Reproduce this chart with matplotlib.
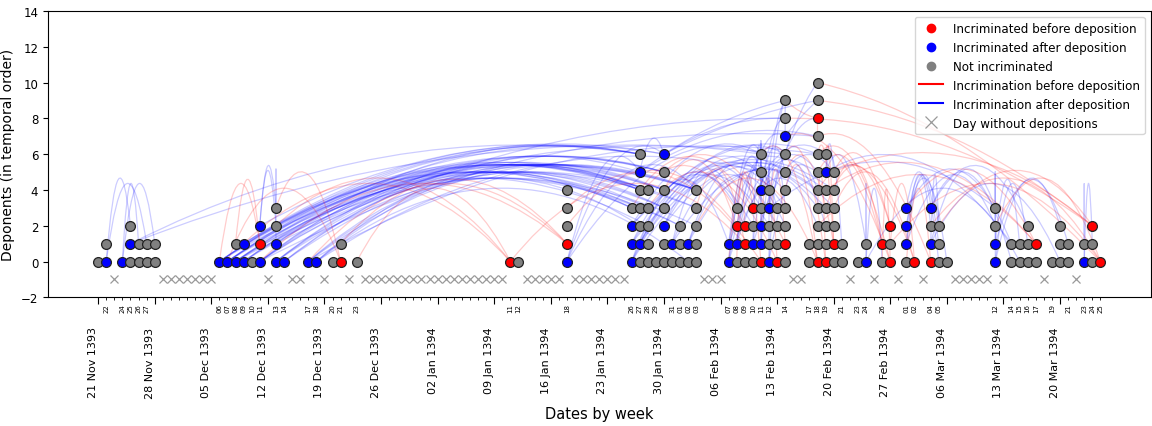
import datetime as dt

import matplotlib
matplotlib.use("Agg")
import matplotlib.pyplot as plt
from matplotlib.lines import Line2D
from matplotlib.patches import PathPatch
from matplotlib.path import Path

START = dt.date(1393, 11, 21)
END = dt.date(1394, 3, 25)
ARC_TOP = 8.2
MONTHS = ["Jan", "Feb", "Mar", "Apr", "May", "Jun",
          "Jul", "Aug", "Sep", "Oct", "Nov", "Dec"]

# deposition days (MM-DD, Nov/Dec = 1393, rest = 1394)
DEP_DAYS = [
    "11-21", "11-22", "11-24", "11-25", "11-26", "11-27", "11-28",
    "12-06", "12-07", "12-08", "12-09", "12-10", "12-11", "12-13", "12-14",
    "12-17", "12-18", "12-20", "12-21", "12-23",
    "01-11", "01-12", "01-18",
    "01-26", "01-27", "01-28", "01-29", "01-30", "01-31", "02-01", "02-02", "02-03",
    "02-07", "02-08", "02-09", "02-10", "02-11", "02-12", "02-13", "02-14",
    "02-17", "02-18", "02-19", "02-20", "02-21", "02-23", "02-24", "02-26", "02-27",
    "03-01", "03-02", "03-04", "03-05", "03-06",
    "03-12", "03-14", "03-15", "03-16", "03-17", "03-19", "03-20", "03-21",
    "03-23", "03-24", "03-25",
]
# deponents of each day, bottom to top: R = before, B = after, G = not incriminated
DEP_STATUS = [
    "G", "BG", "B", "GBG", "GG", "GG", "GG",
    "B", "B", "BG", "BB", "G", "BRB", "BBGG", "B",
    "B", "B", "G", "RG", "G",
    "R", "G", "BRGGG",
    "BBBG", "GBGGGBG", "GGGGG", "G", "GGBGGGB", "GB", "GGG", "GB", "GGGGG",
    "BB", "GBRG", "GRR", "GBGR", "RBBGBGG", "BGGBG", "RGGG", "GRGGGGGBGG",
    "GG", "RGGGGGGGRGG", "RGGGGBG", "GRGGGG", "GG", "G", "BG", "GR", "RGR",
    "GBBB", "R", "RBGB", "GGG", "G",
    "BBGG", "GG", "GG", "GGG", "GR", "G", "GGG", "GG",
    "BG", "GGR", "R",
]
# (incriminator day, position, incriminated day, position)
LINKS = [
    ("01-26", 3, "12-06", 0), ("01-27", 4, "12-06", 0), ("01-27", 6, "12-06", 0),
    ("01-28", 4, "12-06", 0), ("01-30", 5, "12-06", 0), ("02-03", 4, "12-06", 0),
    ("01-26", 3, "12-07", 0), ("01-27", 6, "12-07", 0), ("01-28", 3, "12-07", 0),
    ("01-30", 4, "12-07", 0), ("01-30", 6, "12-07", 0), ("02-03", 3, "12-07", 0),
    ("01-27", 4, "12-08", 0), ("01-28", 4, "12-08", 0), ("01-30", 5, "12-08", 0),
    ("02-01", 2, "12-08", 0), ("02-03", 4, "12-08", 0), ("02-11", 6, "12-08", 0),
    ("01-27", 3, "12-09", 0), ("01-28", 2, "12-09", 0), ("01-30", 3, "12-09", 0),
    ("02-03", 2, "12-09", 0),
    ("01-27", 6, "12-09", 1), ("01-30", 4, "12-09", 1), ("01-28", 4, "12-09", 1),
    ("01-26", 3, "12-11", 0), ("01-27", 4, "12-11", 0), ("01-30", 5, "12-11", 0),
    ("02-03", 4, "12-11", 0), ("02-01", 2, "12-11", 0), ("02-18", 7, "12-11", 0),
    ("12-13", 3, "12-11", 2), ("12-13", 2, "12-11", 2), ("01-30", 6, "12-11", 2),
    ("01-27", 5, "12-13", 0), ("01-28", 4, "12-13", 0), ("01-30", 3, "12-13", 0),
    ("02-03", 3, "12-13", 0),
    ("01-27", 6, "12-13", 1), ("01-30", 4, "12-13", 1), ("12-13", 3, "12-13", 1),
    ("02-14", 8, "12-13", 1),
    ("01-30", 5, "12-14", 0), ("01-28", 3, "12-14", 0), ("02-03", 4, "12-14", 0),
    ("01-27", 2, "12-17", 0), ("01-30", 3, "12-17", 0), ("02-03", 4, "12-17", 0),
    ("02-18", 6, "12-17", 0),
    ("01-27", 4, "12-18", 0), ("01-30", 4, "12-18", 0), ("02-02", 0, "12-18", 0),
    ("02-11", 5, "12-18", 0),
    ("11-25", 2, "11-22", 0), ("11-27", 1, "11-22", 0),
    ("11-26", 1, "11-24", 0), ("11-28", 1, "11-24", 0),
    ("01-27", 6, "11-25", 1), ("02-14", 6, "11-25", 1),
    ("12-06", 0, "12-11", 1), ("12-08", 1, "12-11", 1),
    ("12-07", 0, "12-21", 0), ("12-13", 3, "12-21", 0),
    ("12-09", 1, "01-11", 0), ("12-13", 2, "01-11", 0), ("12-23", 0, "01-11", 0),
    ("12-17", 0, "01-18", 1), ("12-11", 0, "01-18", 1), ("12-21", 1, "01-18", 1),
    ("01-27", 5, "01-18", 0), ("01-30", 6, "01-18", 0), ("02-03", 4, "01-18", 0),
    ("02-11", 6, "01-18", 0),
    ("02-08", 3, "01-26", 0), ("02-11", 5, "01-26", 0), ("02-14", 5, "01-26", 0),
    ("02-18", 5, "01-26", 0),
    ("02-10", 2, "01-26", 1), ("02-14", 4, "01-26", 1), ("02-19", 4, "01-26", 1),
    ("02-11", 6, "01-26", 2), ("02-18", 6, "01-26", 2), ("02-20", 4, "01-26", 2),
    ("02-07", 1, "01-27", 1), ("02-12", 2, "01-27", 1), ("02-14", 6, "01-27", 1),
    ("02-18", 4, "01-27", 1),
    ("01-30", 6, "01-27", 5), ("02-14", 8, "01-27", 5), ("02-18", 7, "01-27", 5),
    ("02-11", 3, "01-30", 2), ("02-14", 3, "01-30", 2), ("02-19", 3, "01-30", 2),
    ("02-14", 9, "01-30", 6), ("02-18", 9, "01-30", 6),
    ("02-08", 3, "01-31", 1), ("02-13", 2, "01-31", 1), ("02-20", 3, "01-31", 1),
    ("02-12", 4, "02-02", 1), ("02-14", 2, "02-02", 1), ("02-18", 3, "02-02", 1),
    ("01-30", 4, "02-08", 2), ("01-18", 2, "02-08", 2),
    ("01-11", 0, "02-09", 1), ("02-03", 3, "02-09", 1),
    ("01-26", 3, "02-09", 2), ("02-08", 0, "02-09", 2),
    ("01-27", 4, "02-10", 3), ("02-07", 0, "02-10", 3),
    ("01-18", 3, "02-11", 0), ("02-08", 3, "02-11", 0),
    ("01-28", 3, "02-13", 0), ("02-11", 2, "02-13", 0),
    ("01-30", 5, "02-14", 1), ("02-12", 3, "02-14", 1),
    ("02-11", 5, "02-07", 0), ("02-14", 6, "02-07", 0), ("02-18", 2, "02-07", 0),
    ("02-11", 6, "02-07", 1), ("02-13", 3, "02-07", 1), ("02-19", 6, "02-07", 1),
    ("02-12", 4, "02-08", 1), ("02-14", 7, "02-08", 1), ("02-18", 5, "02-08", 1),
    ("02-11", 6, "02-10", 1), ("02-14", 8, "02-10", 1), ("02-20", 5, "02-10", 1),
    ("02-11", 5, "02-11", 1), ("02-14", 9, "02-11", 1),
    ("02-11", 6, "02-11", 2), ("02-18", 8, "02-11", 2),
    ("02-11", 6, "02-11", 4), ("02-14", 5, "02-11", 4), ("02-19", 2, "02-11", 4),
    ("02-12", 4, "02-12", 0), ("02-18", 4, "02-12", 0), ("02-14", 3, "02-12", 0),
    ("02-14", 9, "02-12", 3), ("02-18", 10, "02-12", 3), ("03-12", 3, "02-12", 3),
    ("02-18", 9, "02-14", 7), ("02-14", 9, "02-14", 7),
    ("02-21", 1, "02-19", 5), ("02-24", 1, "02-19", 5), ("02-20", 5, "02-19", 5),
    ("03-14", 1, "02-19", 5),
    ("02-26", 0, "02-24", 0), ("02-24", 1, "02-24", 0), ("03-15", 0, "02-24", 0),
    ("03-04", 2, "03-01", 1), ("03-05", 2, "03-01", 1), ("03-12", 2, "03-01", 1),
    ("03-05", 1, "03-01", 2), ("03-06", 0, "03-01", 2),
    ("03-14", 1, "03-01", 3), ("03-05", 0, "03-01", 3),
    ("03-05", 2, "03-04", 1), ("03-12", 3, "03-04", 1), ("03-20", 0, "03-04", 1),
    ("03-14", 0, "03-04", 3), ("03-16", 2, "03-04", 3),
    ("03-12", 3, "03-12", 0), ("03-16", 1, "03-12", 0), ("03-20", 2, "03-12", 0),
    ("03-12", 2, "03-12", 1), ("03-15", 1, "03-12", 1), ("03-21", 1, "03-12", 1),
    ("03-23", 1, "03-23", 0), ("03-24", 1, "03-23", 0),
    ("02-14", 4, "02-18", 0), ("02-11", 6, "02-18", 0), ("02-03", 2, "02-18", 0),
    ("02-14", 9, "02-18", 8), ("02-18", 7, "02-18", 8),
    ("02-14", 6, "02-19", 0), ("02-18", 3, "02-19", 0),
    ("02-18", 6, "02-20", 1), ("02-19", 6, "02-20", 1), ("02-14", 5, "02-20", 1),
    ("02-18", 5, "02-26", 1), ("02-20", 4, "02-26", 1),
    ("02-18", 6, "02-27", 0), ("02-26", 0, "02-27", 0), ("02-14", 7, "02-27", 0),
    ("02-19", 3, "02-27", 2), ("02-20", 5, "02-27", 2),
    ("02-18", 4, "03-02", 0), ("02-27", 1, "03-02", 0), ("02-20", 3, "03-02", 0),
    ("02-18", 7, "03-04", 0), ("03-01", 0, "03-04", 0),
    ("02-18", 2, "03-17", 1), ("02-19", 4, "03-17", 1), ("03-01", 3, "03-17", 1),
    ("02-18", 9, "03-24", 2), ("02-20", 5, "03-24", 2), ("02-14", 8, "03-24", 2),
    ("03-05", 2, "03-24", 2),
    ("02-18", 10, "03-25", 0), ("02-27", 1, "03-25", 0), ("03-04", 2, "03-25", 0),
    ("03-12", 2, "03-25", 0),
]

COLORS = {"R": "red", "B": "blue", "G": "gray"}


def to_date(md):
    m, d = (int(s) for s in md.split("-"))
    return dt.date(1393 if m >= 11 else 1394, m, d)


def day_num(md):
    return (to_date(md) - START).days


def arc(x0, y0, x1, y1):
    verts = [(x0, y0), ((x0 + x1) / 2, ARC_TOP), (x1, y1)]
    return Path(verts, [Path.MOVETO, Path.CURVE3, Path.CURVE3])


def main():
    n_days = (END - START).days
    dep_x = [day_num(d) for d in DEP_DAYS]

    fig = plt.figure(figsize=(11.52, 4.27), dpi=100)
    ax = fig.add_axes([0.0417, 0.3014, 0.957, 0.6705])

    # incrimination arcs, red if the incriminated deposed later
    for fa, pa, ta, pb in LINKS:
        x0, x1 = day_num(fa), day_num(ta)
        col = "red" if (x1, pb) > (x0, pa) else "blue"
        ax.add_patch(PathPatch(arc(x0, pa, x1, pb), facecolor="none",
                               edgecolor=col, lw=0.9, alpha=0.2, zorder=1))

    # deponents
    for x, status in zip(dep_x, DEP_STATUS):
        for pos, s in enumerate(status):
            ax.scatter(x, pos, s=50, color=COLORS[s], edgecolors="#222222",
                       linewidths=0.9, zorder=3)

    # days without depositions
    empty = [d for d in range(n_days + 1) if d not in dep_x]
    ax.plot(empty, [-1] * len(empty), linestyle="none", marker="x", ms=6,
            mew=0.9, color="#999999", zorder=2)

    ax.set_xlim(-6.2, n_days + 6.2)
    ax.set_ylim(-2, 14)
    ax.set_yticks(range(-2, 15, 2))

    major = list(range(0, n_days + 1, 7))
    major_labels = []
    for d in major:
        dd = START + dt.timedelta(days=d)
        major_labels.append(f"{dd.day:02d} {MONTHS[dd.month - 1]} {dd.year}")
    ax.set_xticks(major, major_labels)
    minor = [d for d in range(n_days + 1) if d not in major]
    minor_labels = []
    for d in minor:
        dd = START + dt.timedelta(days=d)
        minor_labels.append(f"{dd.day:02d}" if d in dep_x else "")
    ax.set_xticks(minor, minor_labels, minor=True)

    ax.tick_params(axis="x", which="major", length=5, pad=16, labelsize=8,
                   labelrotation=90)
    ax.tick_params(axis="x", which="minor", length=2.5, pad=1.5, labelsize=5,
                   labelrotation=90)
    ax.tick_params(axis="y", labelsize=8.5)
    for lab in ax.get_xticklabels():
        lab.set_horizontalalignment("right")

    ax.set_xlabel("Dates by week", fontsize=10.5, labelpad=6)
    ax.set_ylabel("Deponents (in temporal order)", fontsize=10)

    handles = [
        Line2D([], [], ls="none", marker="o", ms=6, color="red"),
        Line2D([], [], ls="none", marker="o", ms=6, color="blue"),
        Line2D([], [], ls="none", marker="o", ms=6, color="gray"),
        Line2D([], [], color="red", lw=1.5),
        Line2D([], [], color="blue", lw=1.5),
        Line2D([], [], ls="none", marker="x", ms=8, mew=0.9, color="#999999"),
    ]
    labels = ["Incriminated before deposition", "Incriminated after deposition",
              "Not incriminated", "Incrimination before deposition",
              "Incrimination after deposition", "Day without depositions"]
    ax.legend(handles, labels, loc="upper right", fontsize=8.6)

    fig.savefig("out.png", dpi=100)
    plt.close(fig)


if __name__ == "__main__":
    main()
